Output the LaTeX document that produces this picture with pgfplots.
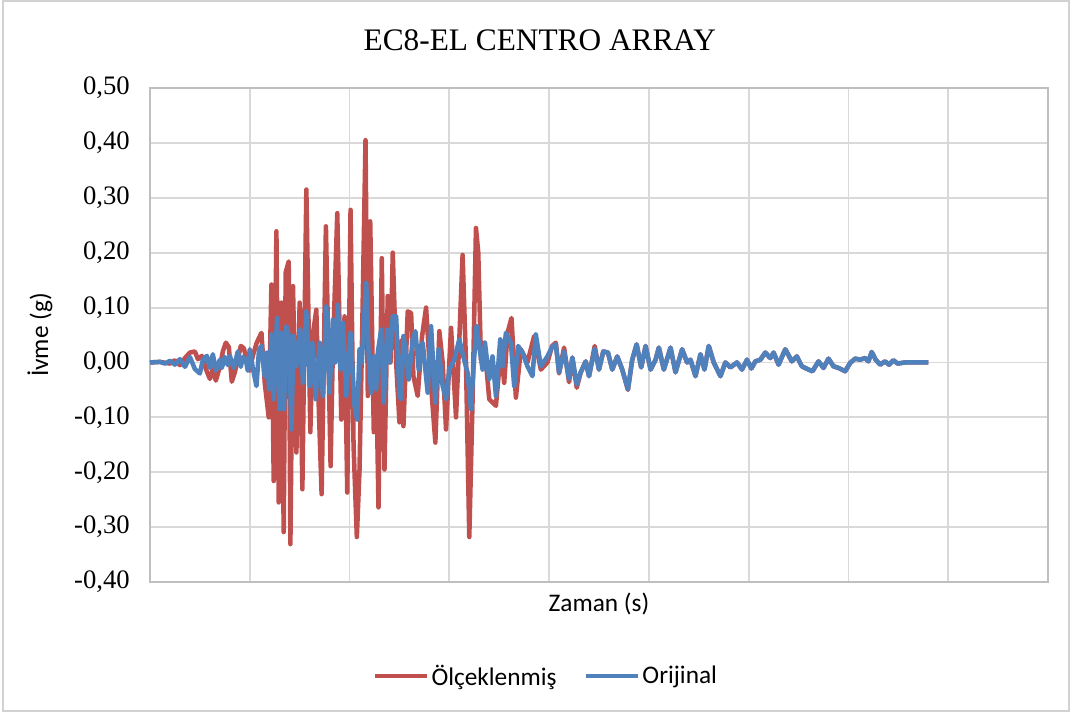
\documentclass[border=0pt]{standalone}
\usepackage{fontspec}
\setmainfont{Liberation Serif}
\newfontfamily\calibri{Carlito}
\usepackage{pgfplots}
\usepackage{pgfplotstable}
\pgfplotsset{compat=1.18}

\definecolor{exred}{HTML}{C0504D}
\definecolor{exblue}{HTML}{4F81BD}
\definecolor{gridgray}{HTML}{D9D9D9}
\definecolor{axgray}{HTML}{BFBFBF}

% x = time in arbitrary units (no tick labels in the chart), y = acceleration (g)
\pgfplotstableread{
t a
0 0
10 0.001
20 -0.002
25 0.004
30 -0.005
35 0.008
40 0.018
45 0.020
48 0.006
52 0.012
56 -0.012
60 -0.030
63 -0.012
66 -0.033
70 -0.008
73 0.020
76 0.036
79 0.028
82 -0.035
85 -0.018
88 0.006
91 0.030
94 0.026
97 0.004
100 -0.015
103 0.012
107 0.036
111.7 0.054
115 -0.037
119 -0.100
121.7 0.142
124 -0.216
126.7 0.239
129 -0.255
131.7 0.109
134 -0.309
136 0.164
139 0.184
140.7 -0.331
143.3 0.139
146.7 -0.164
150 0.109
152.7 -0.231
156.7 0.315
160.7 -0.127
163 0.048
166.7 0.096
169 -0.073
172 -0.240
176.3 0.248
181 -0.189
183 0.000
187.7 0.272
191.7 -0.104
195 0.084
197.7 -0.237
201 0.278
204 -0.150
207.3 -0.318
210 -0.195
212.7 0.060
216 0.405
218.3 -0.061
220.7 0.257
224.3 -0.127
226.7 -0.013
229 -0.264
232.3 0.190
235 -0.195
238.3 0.121
241 0.000
243.3 0.200
246.7 0.000
250 -0.109
252 0.040
254 -0.116
258.3 0.093
261.7 0.090
264 -0.025
268.3 -0.061
272.7 0.048
276.7 0.100
280.7 -0.018
286 -0.146
290 0.057
293.3 0.000
296.7 -0.122
301.7 0.063
306.7 -0.100
310 0.042
313.3 0.196
316.7 0.000
320 -0.318
323.3 -0.067
326.7 0.245
329 0.200
331.7 0.005
335 0.036
340 -0.067
346.7 -0.079
351.7 0.024
355 -0.037
358.3 0.054
362.3 0.081
366.7 -0.064
371.7 0.024
378.3 0.000
385 0.048
391.7 -0.013
398.3 0.000
403 0.030
406.7 0.036
410 -0.020
415 0.027
420 -0.036
423.3 0.009
427.7 -0.046
431.7 -0.018
436.7 0.002
440 -0.025
445.7 0.030
450 -0.013
454.3 0.020
459 0.018
463.3 -0.013
468.3 0.011
473.3 -0.013
479 -0.050
483.3 0.005
487.7 0.033
492.3 -0.009
496.7 0.030
501.7 -0.013
506.7 0.005
510 0.027
515 -0.013
521.7 0.027
526.7 -0.018
533.3 0.024
538.3 0.000
541.7 0.005
546.7 -0.025
551.7 0.015
555.7 -0.013
560 0.030
565 0.000
571.7 -0.025
576.7 0.000
581.7 -0.009
588.3 0.000
593.3 -0.013
598.3 0.005
602.7 -0.011
606.7 0.002
611.7 0.005
616.7 0.018
621.7 0.008
625 0.018
630 -0.004
636.7 0.024
643.3 0.002
648.3 0.011
653.3 -0.007
660 -0.013
664 -0.016
670 0.002
675 -0.010
680 0.007
685 -0.007
690 -0.010
696.7 -0.016
701.7 -0.001
706.7 0.007
711.7 0.005
716.7 0.008
720 0.002
723.3 0.019
727.3 0.005
731.7 -0.004
736.7 0.002
740.7 -0.004
745 0.004
749.3 -0.002
756.7 0.000
780 0.000
}\scaled

\pgfplotstableread{
t a
0 0
10 0.001
15 -0.002
20 0.003
25 -0.004
30 0.006
35 -0.008
40 0.010
45 -0.012
50 -0.020
53 0.005
57 0.012
60 -0.010
63 0.015
66 -0.015
70 0.005
72 -0.010
75 0.010
78 -0.005
80 0.012
84 -0.010
88 0.020
91 -0.008
93 0.010
96 0.005
98 -0.015
100 0.024
103.3 -0.013
106.7 -0.043
109.3 0.024
111.7 0.030
115 -0.025
117.3 0.018
119.3 -0.049
121.7 0.051
124 -0.067
127.3 0.081
130 -0.085
131.7 0.054
134.3 -0.085
136.7 0.066
139.3 0.048
141.7 -0.122
144 0.048
146.7 -0.007
150.7 0.060
153.3 -0.037
156.7 0.093
160 -0.043
162.7 0.036
166 -0.067
170 0.036
173.3 -0.061
176.7 0.102
180 -0.055
183.3 0.078
185.7 0.000
188.3 0.105
191 -0.013
193.3 0.072
196.7 -0.061
201 0.054
205 -0.079
207.7 -0.104
210 0.024
212.3 0.000
214.3 0.072
216.7 0.145
219.3 0.005
221.7 -0.055
224.3 0.011
226.7 -0.049
228.3 0.018
231.7 0.060
234.3 -0.073
237.7 0.060
240 0.000
243.3 0.084
246.7 0.084
250 -0.061
251.7 -0.067
254 0.048
256.7 0.018
259.3 -0.031
263.3 0.042
266 0.057
269.3 -0.013
273.3 0.036
278.3 -0.055
281.7 0.066
286 -0.073
289.3 0.024
293.3 -0.043
296.7 -0.067
300 -0.013
305 0.005
310 0.042
314 0.011
318.3 -0.019
321.7 -0.085
325 0.011
327.3 0.066
330 0.030
333.3 -0.013
335.7 0.036
340 -0.031
343.3 0.011
346.7 -0.061
351 0.042
353.3 -0.007
356.7 0.054
361.7 0.036
365 -0.043
369 0.030
373.3 0.018
378.3 -0.007
383.3 -0.025
386.7 0.051
391.7 -0.007
398.3 0.011
403 0.028
406.7 0.033
410 -0.018
415 0.020
420 -0.030
423.3 0.009
427.7 -0.040
431.7 -0.018
436.7 0.002
440 -0.025
445.7 0.025
450 -0.013
454.3 0.020
459 0.018
463.3 -0.013
468.3 0.011
473.3 -0.013
479 -0.049
483.3 0.005
487.7 0.033
492.3 -0.009
496.7 0.030
501.7 -0.013
506.7 0.005
510 0.027
515 -0.013
521.7 0.027
526.7 -0.018
533.3 0.024
538.3 0.000
541.7 0.005
546.7 -0.025
551.7 0.015
555.7 -0.013
560 0.030
565 0.000
571.7 -0.025
576.7 0.000
581.7 -0.009
588.3 0.000
593.3 -0.013
598.3 0.005
602.7 -0.011
606.7 0.002
611.7 0.005
616.7 0.018
621.7 0.008
625 0.018
630 -0.004
636.7 0.024
643.3 0.002
648.3 0.011
653.3 -0.007
660 -0.013
664 -0.016
670 0.002
675 -0.010
680 0.007
685 -0.007
690 -0.010
696.7 -0.016
701.7 -0.001
706.7 0.007
711.7 0.005
716.7 0.008
720 0.002
723.3 0.019
727.3 0.005
731.7 -0.004
736.7 0.002
740.7 -0.004
745 0.004
749.3 -0.002
756.7 0.000
780 0.000
}\original

\begin{document}
\begin{tikzpicture}
\useasboundingbox (-112.5pt,-99.75pt) rectangle (692.25pt,436.5pt);
\draw[axgray!70, line width=0.8pt] (-110.25pt,-96.75pt) rectangle (689.25pt,435.75pt);
\begin{axis}[
    scale only axis,
    width=673.5pt, height=370.5pt,
    xmin=0, xmax=900,
    ymin=-0.4, ymax=0.5,
    xtick={0,100,...,900},
    xticklabels={},
    ytick={-0.4,-0.3,...,0.5},
    major tick length=0pt,
    grid=major,
    grid style={gridgray, line width=1.4pt},
    axis line style={axgray, line width=1.4pt},
    tick label style={font=\fontsize{20}{20}\selectfont},
    yticklabel style={inner sep=0pt, xshift=-15pt},
    /pgf/number format/.cd, fixed, fixed zerofill, precision=2, use comma, assume math mode=true,
    /pgfplots/.cd,
    title={EC8-EL CENTRO ARRAY},
    title style={at={(axis description cs:0.434,1.08)}, anchor=center, font=\fontsize{23.5}{23.5}\selectfont},
    xlabel={Zaman (s)},
    ylabel={İvme (g)},
    every axis x label/.style={at={(axis description cs:0.5,-0.0445)}, anchor=center, font=\calibri\fontsize{19}{19}\selectfont},
    every axis y label/.style={at={(axis description cs:-0.1225,0.5)}, rotate=90, anchor=center, font=\calibri\fontsize{19}{19}\selectfont},
    legend columns=2,
    legend style={at={(axis description cs:0.441,-0.19)}, anchor=center, draw=none, fill=none,
        font=\calibri\fontsize{19}{19}\selectfont,
        /tikz/every even column/.append style={column sep=18pt}},
    legend image code/.code={\draw[#1] (0pt,0pt) -- (39pt,0pt);},
]
\addplot[exred, line width=3.4pt, line join=round] table[x=t, y=a] {\scaled};
\addplot[exblue, line width=3.4pt, line join=round] table[x=t, y=a] {\original};
\legend{Ölçeklenmiş, Orijinal}
\end{axis}
\end{tikzpicture}
\end{document}
